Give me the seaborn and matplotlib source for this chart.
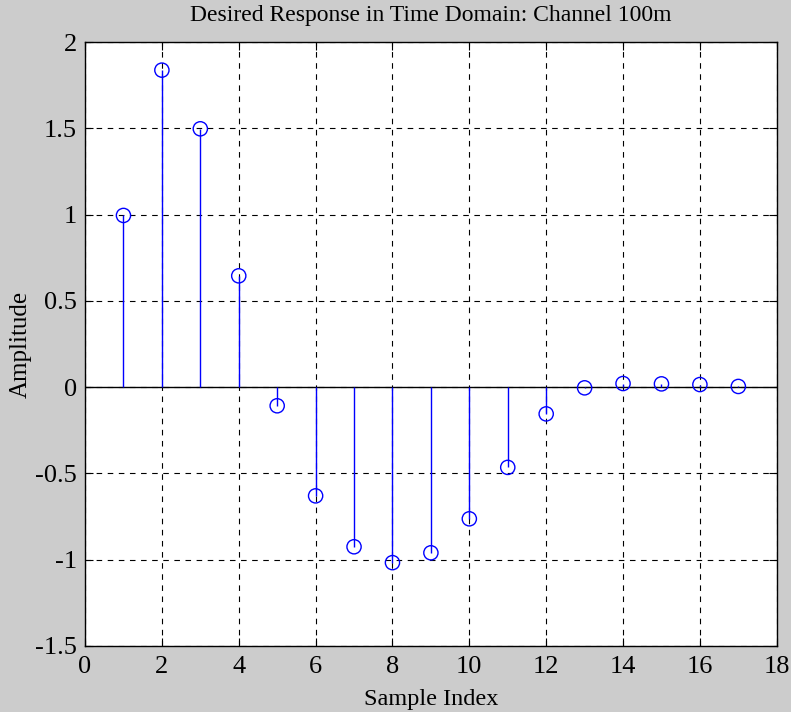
import numpy as np
import pandas as pd
import matplotlib
matplotlib.use("Agg")
import matplotlib.pyplot as plt
import seaborn as sns

sample_index = list(range(1, 18))
amplitude = [0.995, 1.837, 1.497, 0.645, -0.108, -0.630, -0.925, -1.017, -0.960,
             -0.763, -0.465, -0.155, -0.004, 0.021, 0.019, 0.015, 0.004]
x_ticks = [0, 2, 4, 6, 8, 10, 12, 14, 16, 18]
y_ticks = [-1.5, -1, -0.5, 0, 0.5, 1, 1.5, 2]
y_tick_labels = ["-1.5", "-1", "-0.5", "0", "0.5", "1", "1.5", "2"]

df = pd.DataFrame({"Sample Index": sample_index, "Amplitude": amplitude})

sns.set_style("white", rc={"text.color": "black", "axes.labelcolor": "black",
                           "xtick.color": "black", "ytick.color": "black"})
plt.rcParams['font.family'] = ['Liberation Serif', 'DejaVu Serif']

fig = plt.figure(figsize=(7.91, 7.12), dpi=100, facecolor="#cccccc")
ax = fig.add_axes([0.1075, 0.0927, 0.8745, 0.8483])
ax.set_facecolor("white")

ax.axhline(0, color="black", lw=1.0, zorder=2)
ax.vlines(df["Sample Index"], 0, df["Amplitude"], color="blue", lw=1.0, zorder=3)
sns.scatterplot(data=df, x="Sample Index", y="Amplitude", ax=ax, marker="o",
                s=105, facecolors="none", edgecolor="blue", linewidth=1.0, zorder=4)

ax.set_xlim(0, 18)
ax.set_ylim(-1.5, 2)
ax.set_xticks(x_ticks)
ax.set_yticks(y_ticks)
ax.set_yticklabels(y_tick_labels)
ax.grid(True, color="black", linestyle=(0, (5, 5)), lw=0.8)
ax.tick_params(direction="in", length=6, width=0.8, labelsize=19, top=True, right=True,
               bottom=True, left=True, colors="black")
ax.tick_params(axis="x", pad=7)
ax.tick_params(axis="y", pad=6)
for s in ax.spines.values():
    s.set_color("black")
    s.set_linewidth(1.0)

ax.set_xlabel("Sample Index", fontsize=17.5, labelpad=8, color="black")
ax.set_ylabel("Amplitude", fontsize=18, labelpad=2, color="black")
ax.set_title("Desired Response in Time Domain: Channel 100m", fontsize=17, pad=15,
             color="black")

fig.savefig("out.png", dpi=100, facecolor=fig.get_facecolor())
